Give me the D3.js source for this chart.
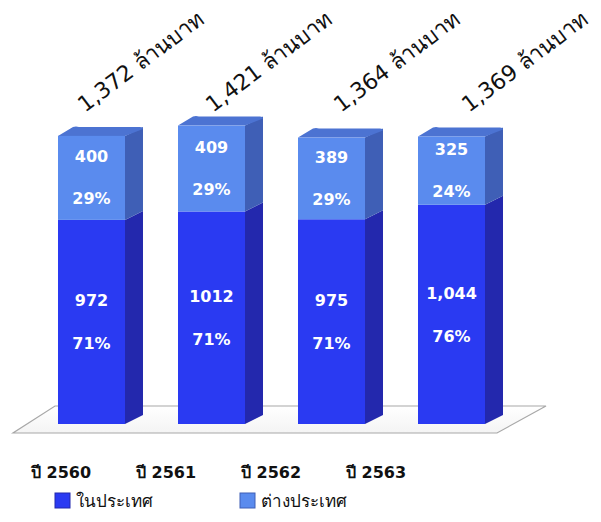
<!DOCTYPE html>
<html><head><meta charset="utf-8">
<script src="https://cdn.jsdelivr.net/npm/d3@7"></script>
<style>body{margin:0;background:#fff}svg{display:block}</style>
</head><body>
<svg id="c" width="601" height="522"></svg>
<script>
const years = ["ปี 2560","ปี 2561","ปี 2562","ปี 2563"];
const domestic = [972, 1012, 975, 1044];
const abroad = [400, 409, 389, 325];
const domesticLbl = ["972","1012","975","1,044"];
const abroadLbl = ["400","409","389","325"];
const domesticPct = ["71%","71%","71%","76%"];
const abroadPct = ["29%","29%","29%","24%"];
const totals = ["1,372 ล้านบาท","1,421 ล้านบาท","1,364 ล้านบาท","1,369 ล้านบาท"];
const seriesNames = ["ในประเทศ","ต่างประเทศ"];

const svg = d3.select("#c");
const x = d3.scaleBand().domain(years).range([30, 513]).paddingInner(0.4417).paddingOuter(0.2333);
const y = d3.scaleLinear().domain([0, 1500]).range([424, 109]);
const xl = d3.scalePoint().domain(years).range([61, 376]);
const dx = 18, dy = -9;
const font = "Tahoma, 'DejaVu Sans', 'Noto Sans', sans-serif";

const defs = svg.append("defs");
const g1 = defs.append("linearGradient").attr("id","floorG").attr("x1",0).attr("y1",0).attr("x2",0).attr("y2",1);
g1.append("stop").attr("offset","0").attr("stop-color","#ffffff");
g1.append("stop").attr("offset","1").attr("stop-color","#f4f4f4");

// floor
const y0 = y(0);
const fl = x.range()[0] - 17, fr = x.range()[1] - 16;
svg.append("polygon")
  .attr("points", [[fl, y0+9],[fr, y0+9],[fr+49, y0-18],[fl+42, y0-18]].map(p=>p.join(",")).join(" "))
  .attr("fill","url(#floorG)").attr("stroke","#a8a8a8").attr("stroke-width",1.2);

const colors = {
  dom: {front:"#2a3af2", side:"#2328ad", top:"#3a48f0"},
  abr: {front:"#5a8bee", side:"#3f5fb6", top:"#4c73d2"}
};

function box(g, x0, w, yt, yb, c, drawTop){
  g.append("polygon").attr("points", [[x0+w,yb],[x0+w+dx,yb+dy],[x0+w+dx,yt+dy],[x0+w,yt]].map(p=>p.join(",")).join(" ")).attr("fill", c.side);
  if(drawTop) g.append("path").attr("d", `M${x0},${yt} L${x0+dx-3},${yt+dy} Q${x0+dx},${yt+dy-1} ${x0+dx+3},${yt+dy} L${x0+w+dx-3},${yt+dy} Q${x0+w+dx},${yt+dy} ${x0+w+dx},${yt+dy+2} L${x0+w},${yt} Z`).attr("fill", c.top);
  g.append("rect").attr("x", x0).attr("y", yt).attr("width", w).attr("height", yb-yt).attr("fill", c.front);
}

years.forEach((yr,i)=>{
  const g = svg.append("g");
  const x0 = x(yr), w = x.bandwidth();
  const ySplit = y(domestic[i]), yTop = y(domestic[i]+abroad[i]);
  box(g, x0, w, ySplit, y0, colors.dom, false);
  box(g, x0, w, yTop, ySplit, colors.abr, true);
  const cx = x0 + w/2;
  const m1 = (yTop+ySplit)/2, m2 = (ySplit+y0)/2;
  const tx = [[abroadLbl[i], m1-21],[abroadPct[i], m1+21],[domesticLbl[i], m2-21],[domesticPct[i], m2+22]];
  tx.forEach(([t,yy])=>{
    g.append("text").attr("x",cx).attr("y",yy).attr("text-anchor","middle").attr("dominant-baseline","central")
      .attr("fill","#fff").attr("font-family",font).attr("font-weight","bold").attr("font-size",16).text(t);
  });
  // total label
  const lx = x0 + 27 + i*8, ly = 113;
  svg.append("text").attr("transform",`translate(${lx},${ly}) rotate(-37)`)
    .attr("font-family",font).attr("font-size",22).attr("fill","#111").text(totals[i]);
});

// x labels
svg.selectAll(".xl").data(years).enter().append("text")
  .attr("x", d=>xl(d)).attr("y", 472).attr("text-anchor","middle").attr("dominant-baseline","central")
  .attr("font-family",font).attr("font-weight","bold").attr("font-size",16).attr("fill","#111").text(d=>d);

// legend
const legX = d3.scalePoint().domain(seriesNames).range([55, 240]);
const legC = [colors.dom, colors.abr];
seriesNames.forEach((n,i)=>{
  const lx = legX(n);
  svg.append("rect").attr("x",lx).attr("y",493).attr("width",15).attr("height",15).attr("fill",legC[i].front).attr("stroke",legC[i].side).attr("stroke-width",1);
  svg.append("text").attr("x",lx+21).attr("y",501).attr("dominant-baseline","central")
    .attr("font-family",font).attr("font-size",17).attr("fill","#111").text(n);
});
</script>
</body></html>
